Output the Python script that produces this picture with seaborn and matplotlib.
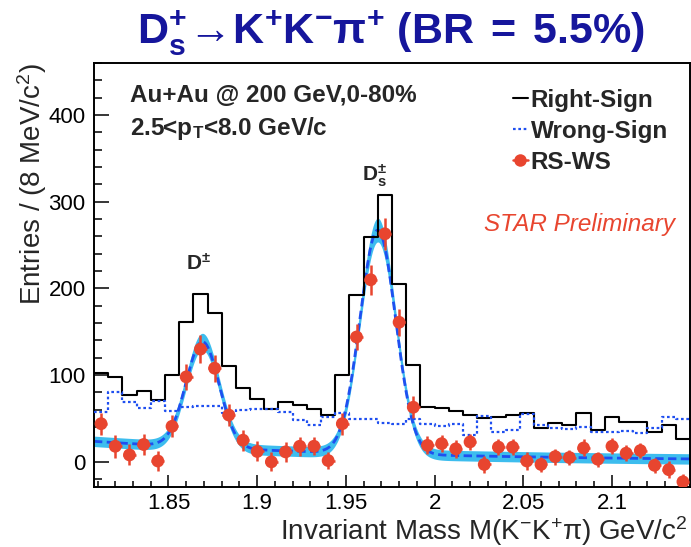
import numpy as np
import pandas as pd
import matplotlib
matplotlib.use("Agg")
import matplotlib.pyplot as plt
from matplotlib.lines import Line2D
from matplotlib.ticker import MultipleLocator, FixedLocator
from matplotlib import font_manager
import seaborn as sns

# ---- histogram binning (8 MeV bins) ----
mass_lo = 1.808
bin_width = 0.008

# ---- candidate counts per bin ----
right_sign = [102, 98, 77, 82, 71, 100, 161, 194, 172, 110,
              85, 73, 61, 69.5, 66, 61, 53.5, 100, 193, 259,
              308, 205, 112, 63, 62, 59, 54, 50, 52, 54,
              56, 39, 45, 43, 56, 37, 52, 46, 46, 35,
              43, 26]
wrong_sign = [58, 80, 69, 62, 70, 59, 63, 64, 64, 56,
              60, 61, 61, 58, 48, 43, 52, 56, 49, 49,
              45, 44, 49, 44, 41, 44, 31, 53, 35, 37,
              55, 42, 39, 38, 40, 34, 34, 36, 33, 39,
              52, 49]

# ---- fit: exponential background + two gaussians ----
bkg_amp, bkg_slope, bkg_ref = 24.8, 5.8, 1.80
dplus_mass, dplus_sigma, dplus_amp = 1.8692, 0.0093, 122.0
ds_mass, ds_sigma, ds_amp = 1.968, 0.0100, 258.0

# ---- axes ----
x_range = (1.808, 2.144)
y_range = (-29, 460)
x_ticks = [1.85, 1.90, 1.95, 2.00, 2.05, 2.10]
x_tick_labels = ["1.85", "1.9", "1.95", "2", "2.05", "2.1"]
y_ticks = [0, 100, 200, 300, 400]
y_tick_labels = ["0", "100", "200", "300", "400"]

n_bins = len(right_sign)
edges = mass_lo + bin_width * np.arange(n_bins + 1)
centers = 0.5 * (edges[:-1] + edges[1:])
rs = np.asarray(right_sign, float)
ws = np.asarray(wrong_sign, float)
diff = rs - ws
diff_err = np.sqrt(rs + ws)

points_df = pd.DataFrame({"mass": centers, "diff": diff})
# step outlines: one vertex per bin edge, last level repeated
steps_df = pd.DataFrame({"edge": edges,
                         "rs": np.append(rs, rs[-1]),
                         "ws": np.append(ws, ws[-1])})

sns.set_theme(style="ticks")
available = {f.name for f in font_manager.fontManager.ttflist}
narrow = "Liberation Sans Narrow" if "Liberation Sans Narrow" in available else "Liberation Sans"
plt.rcParams.update({
    "font.family": ["Liberation Sans", "DejaVu Sans"],
    "mathtext.fontset": "custom",
    "mathtext.rm": "Liberation Sans",
    "mathtext.it": "Liberation Sans:italic",
    "mathtext.bf": "Liberation Sans:bold",
    "mathtext.sf": f"{narrow}:bold",
    "axes.linewidth": 1.4,
})

RED = "#e8452f"
BLUE = "#1f4ff0"
BAND = "#3dbdee"
TITLE_BLUE = "#16169c"

fig = plt.figure(figsize=(6.91, 5.47), dpi=100)
ax = fig.add_axes([0.136, 0.1097, 0.8626, 0.7751])

# fitted signal + background with its uncertainty band
grid = np.linspace(x_range[0], x_range[1], 800)
bkg = bkg_amp * np.exp(-bkg_slope * (grid - bkg_ref))
sig = (dplus_amp * np.exp(-0.5 * ((grid - dplus_mass) / dplus_sigma) ** 2)
       + ds_amp * np.exp(-0.5 * ((grid - ds_mass) / ds_sigma) ** 2))
fit = bkg + sig
band = 6.0 + 0.03 * sig
ax.fill_between(grid, fit - band, fit + band, color=BAND, lw=0, zorder=1)
sns.lineplot(x=grid, y=fit, color=BLUE, lw=2.0, ax=ax, zorder=2,
             linestyle=(0, (3, 1.6)))

# right-sign and wrong-sign histograms
sns.lineplot(data=steps_df, x="edge", y="rs", drawstyle="steps-post",
             color="black", lw=1.5, ax=ax, zorder=3)
sns.lineplot(data=steps_df, x="edge", y="ws", drawstyle="steps-post",
             color=BLUE, lw=1.6, ax=ax, zorder=3, linestyle=(0, (1.2, 1.2)))

# background-subtracted points
ax.errorbar(centers, diff, yerr=diff_err, xerr=bin_width * 0.45, fmt="none",
            ecolor=RED, elinewidth=1.8, capsize=0, zorder=4)
sns.scatterplot(data=points_df, x="mass", y="diff", color=RED, s=85,
                marker="o", edgecolor="none", ax=ax, zorder=5)

ax.set_xlim(*x_range)
ax.set_ylim(*y_range)
ax.xaxis.set_major_locator(FixedLocator(x_ticks))
ax.set_xticklabels(x_tick_labels)
ax.xaxis.set_minor_locator(MultipleLocator(0.01))
ax.yaxis.set_major_locator(FixedLocator(y_ticks))
ax.set_yticklabels(y_tick_labels)
ax.yaxis.set_minor_locator(MultipleLocator(20))
ax.tick_params(axis="both", which="both", direction="in", top=False, right=False,
               colors="black", labelsize=16, width=1.1)
ax.tick_params(axis="y", which="major", length=11, pad=6)
ax.tick_params(axis="y", which="minor", length=5.5)
ax.tick_params(axis="x", which="major", length=9, pad=4.5)
ax.tick_params(axis="x", which="minor", length=4)
for s in ax.spines.values():
    s.set_visible(True)
    s.set_color("black")

ax.set_xlabel("Invariant Mass M(K$^{-}$K$^{+}$π) GeV/c$^{2}$", fontsize=20,
              loc="right")
ax.xaxis.set_label_coords(0.996, -0.063)
ax.set_ylabel("Entries / (8 MeV/c$^{2}$)", fontsize=20, loc="top")
ax.yaxis.set_label_coords(-0.0756, 1.0)

# annotations
ax.text(0.0604, 0.9087, "Au+Au @ 200 GeV,0-80%", transform=ax.transAxes,
        fontsize=17.5, fontweight="bold", ha="left", va="baseline")
ax.text(0.0604, 0.830, "2.5<p$_{\\mathbf{T}}$<8.0 GeV/c", transform=ax.transAxes,
        fontsize=17.5, fontweight="bold", ha="left", va="baseline")
ax.text(dplus_mass - 0.002, 221, "$\\mathbf{D^{\\pm}}$", fontsize=15,
        ha="center", va="baseline")
ax.text(ds_mass - 0.002, 323, "$\\mathbf{D_{s}^{\\pm}}$", fontsize=15,
        ha="center", va="baseline")
ax.text(0.975, 0.604, "STAR Preliminary", transform=ax.transAxes, color=RED,
        fontsize=17.5, fontstyle="italic", ha="right", va="baseline")

handles = [
    Line2D([], [], color="black", lw=1.5),
    Line2D([], [], color=BLUE, lw=1.6, linestyle=(0, (1.2, 1.2))),
    Line2D([], [], color=RED, lw=1.8, marker="o", markersize=9,
           markeredgecolor="none"),
]
leg = ax.legend(handles, ["Right-Sign", "Wrong-Sign", "RS-WS"], loc="upper left",
                bbox_to_anchor=(0.686, 0.962), borderaxespad=0, frameon=False,
                handlelength=0.62, handletextpad=0.12, labelspacing=0.33,
                prop={"weight": "bold", "size": 17.5})

fig.text(0.566, 1 - 44 / 547,
         "$\\mathsf{D_{s}^{+}\\!\\rightarrow\\!K^{+}K^{-}\\pi^{+}\\ (BR\\;=\\;5.5\\%)}$",
         color=TITLE_BLUE, fontsize=31, ha="center", va="baseline")

fig.savefig("out.png", dpi=100, facecolor="white")
